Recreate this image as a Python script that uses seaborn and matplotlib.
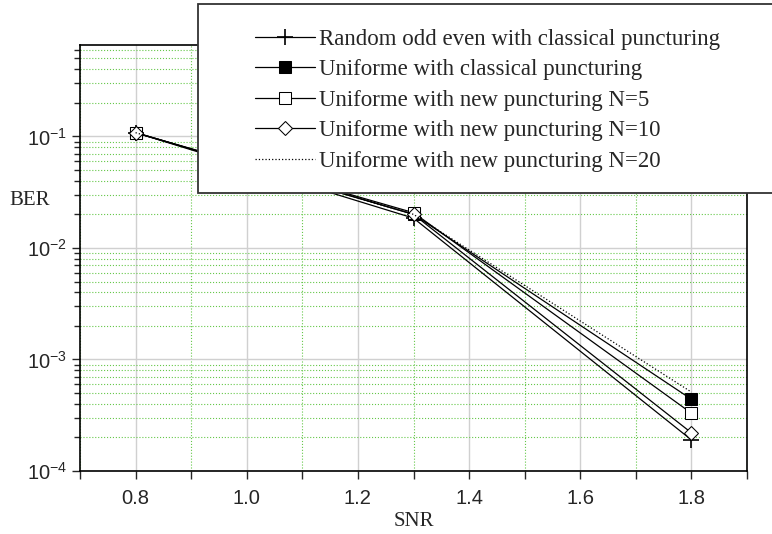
import matplotlib
matplotlib.use('Agg')
import matplotlib.pyplot as plt
import seaborn as sns
import pandas as pd
from matplotlib.patches import Rectangle
from matplotlib.ticker import LogLocator, MultipleLocator, NullFormatter

# Données
snr = [0.8, 1.3, 1.8]
ber_random = [0.108, 0.0185, 0.00019]
ber_classical = [0.108, 0.0200, 0.00044]
ber_n5 = [0.108, 0.0207, 0.00033]
ber_n10 = [0.108, 0.0200, 0.00022]
ber_n20 = [0.108, 0.0200, 0.00051]

labels = ['Random odd even with classical puncturing',
          'Uniforme with classical puncturing',
          'Uniforme with new puncturing N=5',
          'Uniforme with new puncturing N=10',
          'Uniforme with new puncturing N=20']

sns.set_style('white')
fig = plt.figure(figsize=(7.72, 5.34), dpi=100)
ax = fig.add_axes([80/772, 1-471/534, (747-80)/772, (471-45)/534])

series = [
    (ber_random, dict(marker='+', markersize=11, mew=1.2, mfc='black', linestyle='-')),
    (ber_classical, dict(marker='s', markersize=8, mfc='black', linestyle='-')),
    (ber_n5, dict(marker='s', markersize=8, mfc='white', linestyle='-')),
    (ber_n10, dict(marker='D', markersize=7.5, mfc='white', linestyle='-')),
    (ber_n20, dict(marker=None, linestyle=':')),
]
for (vals, st), lab in zip(series, labels):
    df = pd.DataFrame({'SNR': snr, 'BER': vals})
    sns.lineplot(data=df, x='SNR', y='BER', ax=ax, color='black', lw=0.9,
                 mec='black', label=lab, legend=False, **st)

ax.set_yscale('log')
ax.set_xlim(0.7, 1.9)
ax.set_ylim(1e-4, 0.66)
ax.xaxis.set_major_locator(MultipleLocator(0.2))
ax.xaxis.set_minor_locator(MultipleLocator(0.1))
ax.yaxis.set_major_locator(LogLocator(base=10, numticks=10))
ax.yaxis.set_minor_locator(LogLocator(base=10, subs=range(2, 10), numticks=20))
ax.yaxis.set_minor_formatter(NullFormatter())
ax.set_xticklabels([f'{t:.1f}' for t in ax.get_xticks()])

ax.grid(which='major', color='#d0d0d0', linestyle='-', lw=1.0)
ax.grid(which='minor', color='#66c84a', linestyle=':', lw=0.8)
ax.set_axisbelow(True)

for sp in ax.spines.values():
    sp.set_color('black')
    sp.set_linewidth(1.2)

ax.tick_params(axis='both', which='major', direction='out', length=6, width=1,
               labelsize=14.5, left=True, bottom=True)
ax.tick_params(axis='x', which='major', pad=7)
ax.tick_params(axis='both', which='minor', direction='out', length=4, width=1,
               left=True, bottom=True)
ax.tick_params(axis='x', which='minor', length=6)
for t in ax.get_xticklabels() + ax.get_yticklabels():
    t.set_fontfamily('Liberation Sans')

ax.set_xlabel('SNR', fontfamily='Liberation Serif', fontsize=15, labelpad=3)
ax.set_ylabel('BER', fontfamily='Liberation Serif', fontsize=15, rotation=0,
              va='center', ha='center')
ax.yaxis.set_label_coords(-0.075, 0.636)

# cadre de la légende (déborde à droite comme l'original)
fig.patches.append(Rectangle((198/772, 1-193/534), 0.8, (193-4)/534,
                             transform=fig.transFigure, facecolor='white',
                             edgecolor='#333333', lw=1.3, zorder=3))

handles, labs = ax.get_legend_handles_labels()
leg = fig.legend(handles, labs, loc='upper left',
                 bbox_to_anchor=(255/772, 1-29/534),
                 prop={'family': 'Liberation Serif', 'size': 16.5},
                 handlelength=2.6, handletextpad=0.2, labelspacing=0.41,
                 borderpad=0, borderaxespad=0, frameon=False)
leg.set_zorder(5)

fig.savefig('out.png', dpi=100)
